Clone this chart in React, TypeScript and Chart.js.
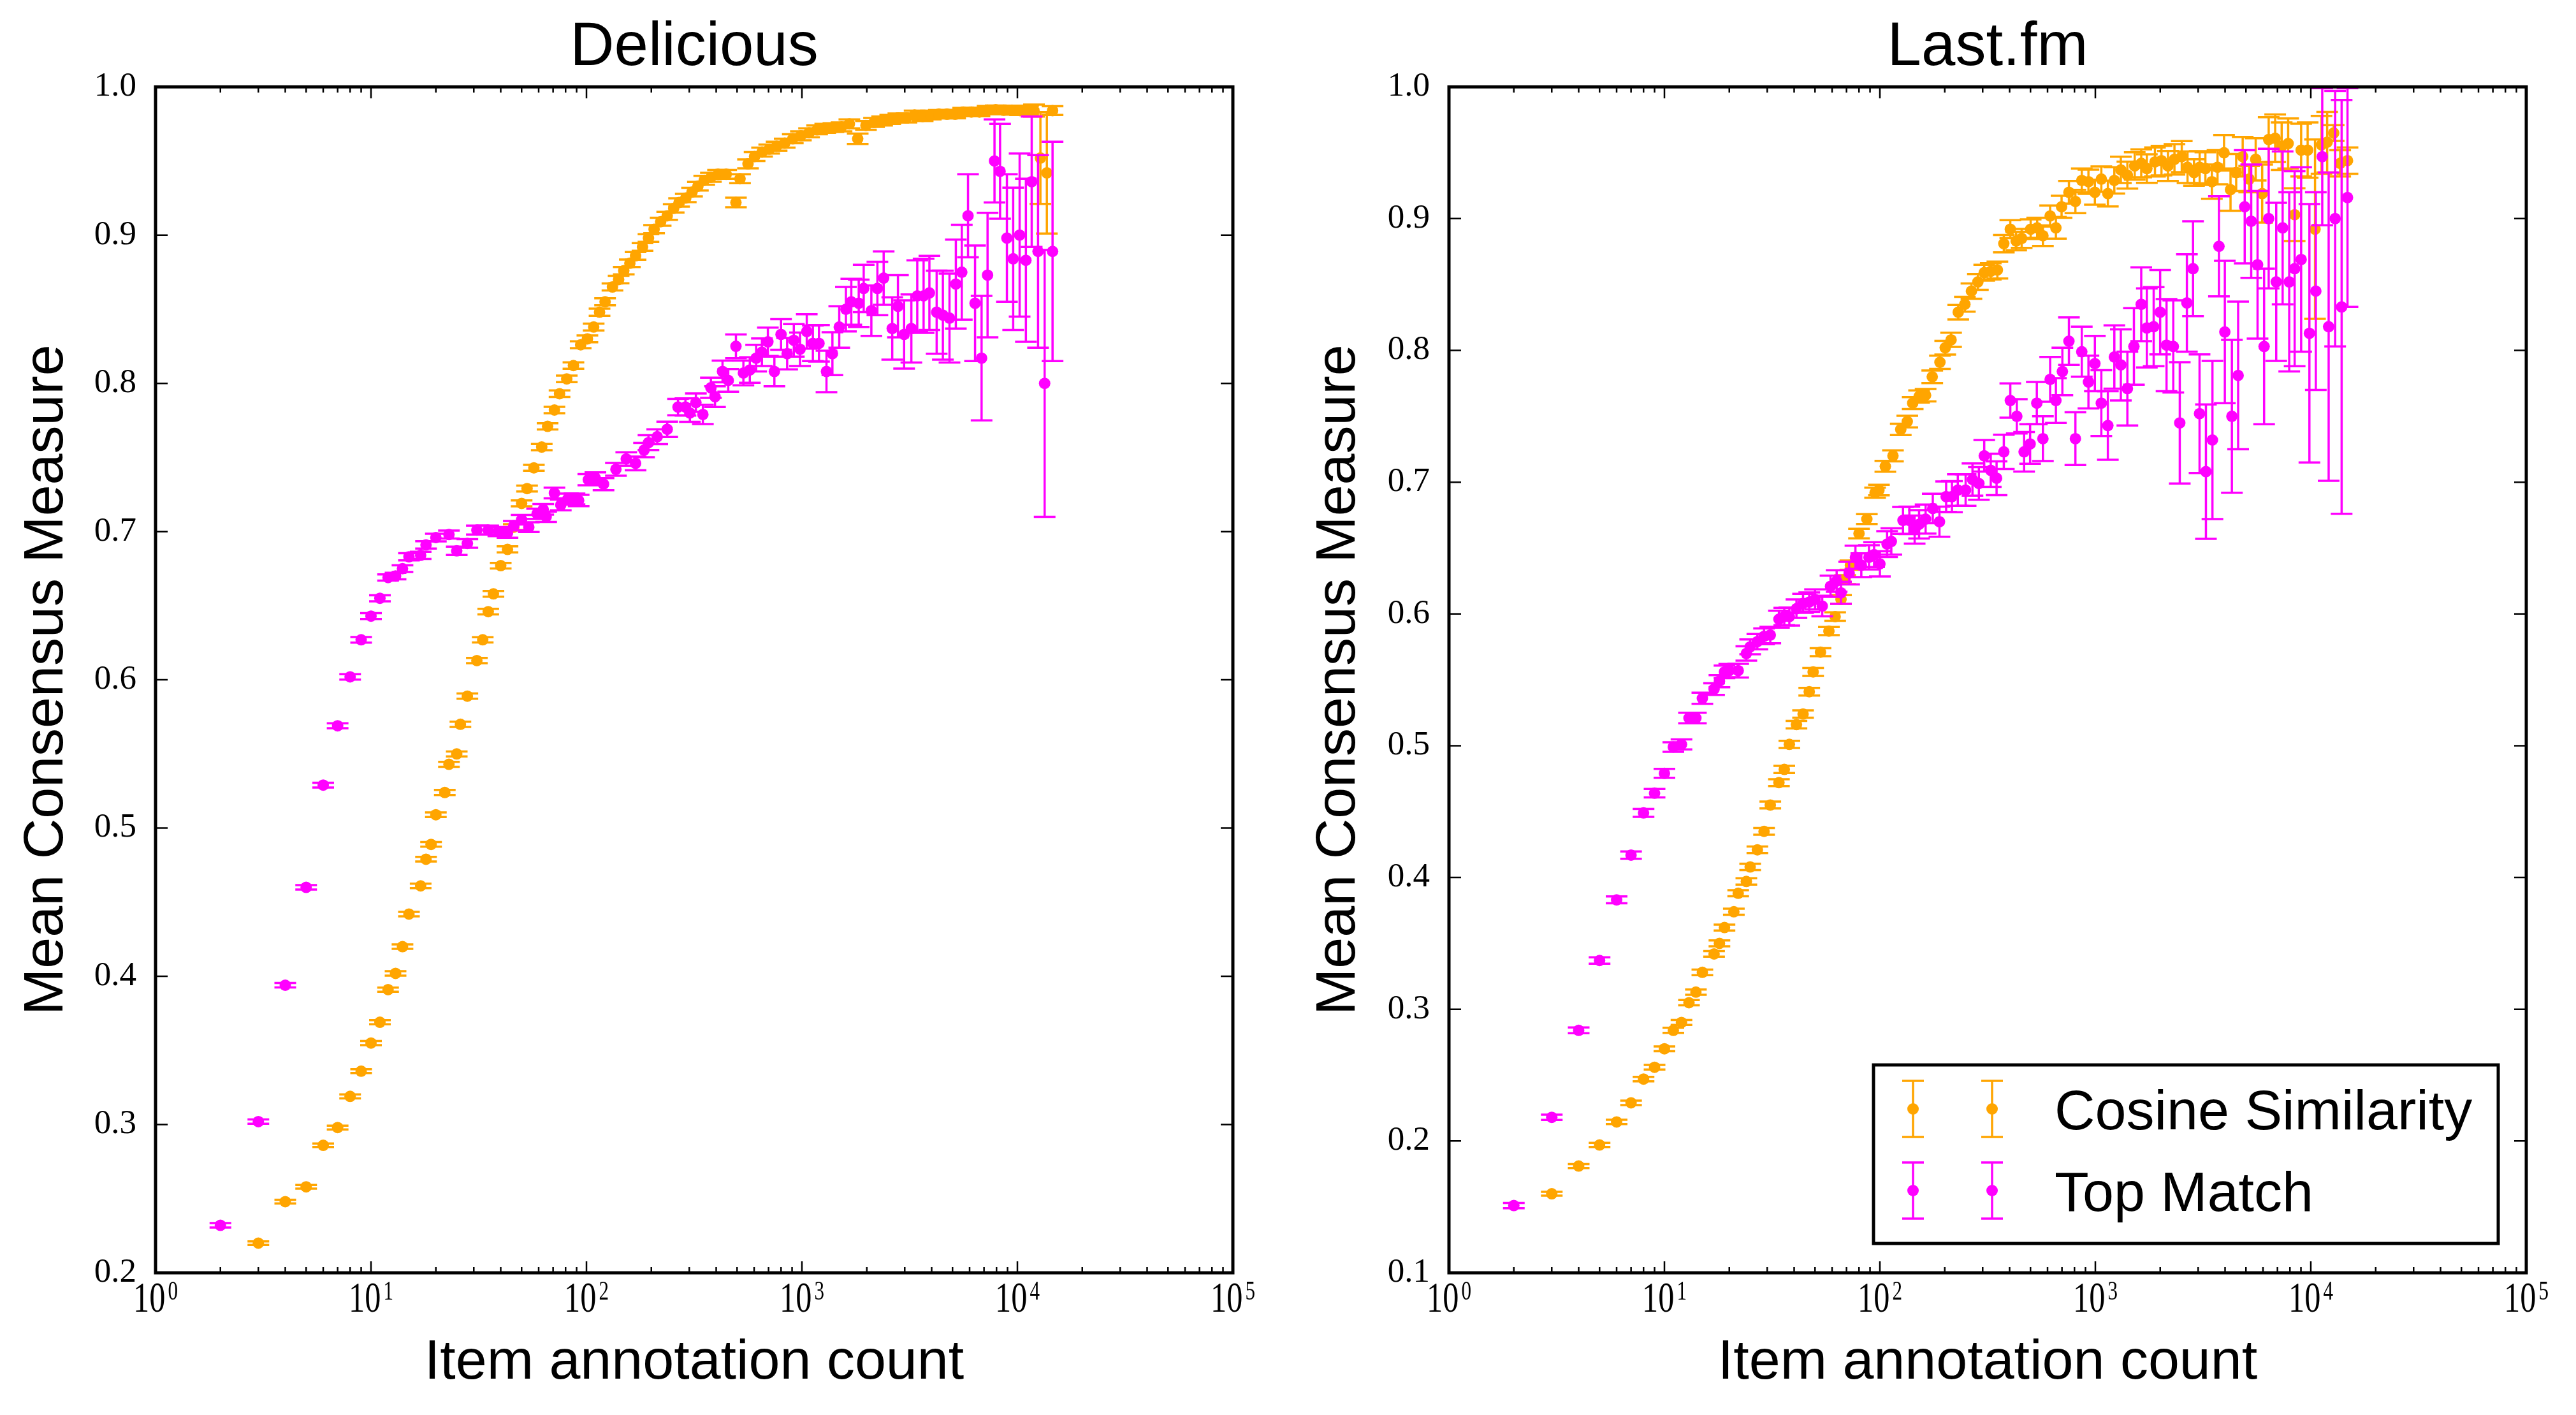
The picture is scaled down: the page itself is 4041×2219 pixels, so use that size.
import React, { useEffect, useRef } from 'react';
import { Chart, registerables } from 'chart.js';

Chart.register(...registerables);

const ORANGE = '#FFA500';
const MAGENTA = '#FF00FF';
const SANS = '"Liberation Sans", Arial, sans-serif';
const SERIF = '"Liberation Serif", "Times New Roman", serif';

const seriesLabels = ['Cosine Similarity', 'Top Match'];
const panelTitles = ['Delicious', 'Last.fm'];
const xAxisTitle = 'Item annotation count';
const yAxisTitle = 'Mean Consensus Measure';
const xTickExponents = [0, 1, 2, 3, 4, 5];

// ---------- Delicious ----------
const delCosX = [3,4,5,6,7,8,9,10,11,12,13,14,15,17,18,19,20,22,23,25,26,28,31,33,35,37,40,43,46,50,53,57,62,66,71,75,81,87,94,101,108,115,122,132,141,149,159,169,182,194,206,221,237,254,269,289,309,329,352,378,408,445,494,516,562,603,653,705,763,832,907,989,1079,1176,1283,1400,1527,1660,1815,1982,2161,2356,2570,2803,3056,3334,3634,3963,4322,4713,5140,5605,6114,6668,7272,7931,8650,9435,10290,11220,11940,12790,13700,14560];
const delCosY = [0.220,0.248,0.258,0.286,0.298,0.319,0.336,0.355,0.369,0.391,0.402,0.420,0.442,0.461,0.479,0.489,0.509,0.524,0.543,0.550,0.570,0.589,0.613,0.627,0.646,0.658,0.677,0.688,0.703,0.719,0.729,0.743,0.757,0.771,0.782,0.793,0.803,0.812,0.826,0.830,0.838,0.848,0.855,0.865,0.870,0.876,0.881,0.886,0.892,0.898,0.904,0.909,0.913,0.918,0.922,0.925,0.929,0.933,0.937,0.939,0.941,0.941,0.922,0.938,0.948,0.953,0.956,0.958,0.960,0.962,0.965,0.967,0.969,0.971,0.972,0.9725,0.973,0.975,0.965,0.974,0.976,0.977,0.978,0.979,0.979,0.981,0.980,0.981,0.9816,0.9816,0.9816,0.983,0.983,0.983,0.9843,0.9846,0.9843,0.9843,0.984,0.9843,0.984,0.952,0.942,0.984];
const delCosErr = [0.0012,0.0012,0.0012,0.0012,0.0013,0.0013,0.0013,0.0014,0.0014,0.0014,0.0015,0.0015,0.0015,0.0015,0.0016,0.0016,0.0016,0.0017,0.0017,0.0017,0.0018,0.0018,0.0018,0.0018,0.0019,0.0019,0.0019,0.002,0.002,0.002,0.002,0.002,0.0021,0.0021,0.0021,0.0022,0.0022,0.0022,0.0023,0.0023,0.0023,0.0024,0.0024,0.0024,0.0025,0.0025,0.0025,0.0026,0.0026,0.0026,0.0027,0.0027,0.0027,0.0028,0.0028,0.0028,0.0029,0.0029,0.003,0.003,0.003,0.003,0.0032,0.003,0.003,0.003,0.003,0.003,0.003,0.003,0.003,0.003,0.003,0.003,0.003,0.003,0.003,0.003,0.0035,0.003,0.003,0.003,0.003,0.003,0.003,0.003,0.003,0.003,0.0028,0.0028,0.0028,0.0028,0.0028,0.0028,0.0028,0.0028,0.0028,0.003,0.003,0.003,0.004,0.031,0.041,0.003];

const delTopX = [2,3,4,5,6,7,8,9,10,11,12,13,14,15,17,18,20,23,25,28,31,35,39,43,46,50,54,59,63,65,71,76,82,88,92,102,110,120,137,153,169,185,194,213,237,266,288,302,322,347,378,395,428,455,494,535,573,613,652,695,745,800,854,917,980,1053,1124,1200,1300,1385,1490,1600,1695,1835,1935,2100,2240,2395,2625,2790,2980,3220,3430,3670,3905,4220,4510,4840,5180,5520,5900,6360,6820,7270,7830,8310,8940,9560,10240,10950,11650,12470,13380,14560];
const delTopY = [0.232,0.302,0.394,0.460,0.529,0.569,0.602,0.627,0.643,0.655,0.669,0.670,0.675,0.683,0.684,0.691,0.696,0.698,0.687,0.692,0.701,0.701,0.700,0.699,0.704,0.708,0.703,0.712,0.715,0.710,0.726,0.718,0.722,0.722,0.721,0.735,0.736,0.732,0.742,0.749,0.746,0.755,0.760,0.764,0.769,0.784,0.784,0.780,0.787,0.779,0.797,0.791,0.808,0.802,0.825,0.807,0.809,0.817,0.821,0.828,0.808,0.833,0.820,0.829,0.823,0.835,0.827,0.827,0.808,0.820,0.838,0.850,0.855,0.854,0.864,0.849,0.864,0.871,0.837,0.852,0.833,0.837,0.859,0.859,0.861,0.848,0.846,0.844,0.867,0.875,0.913,0.854,0.817,0.873,0.950,0.943,0.898,0.884,0.900,0.883,0.936,0.889,0.800,0.889];
const delTopErr = [0.0015,0.0015,0.0015,0.0015,0.0016,0.0017,0.0018,0.0019,0.002,0.002,0.0021,0.0022,0.0023,0.0024,0.0024,0.0025,0.0026,0.0027,0.0028,0.0029,0.003,0.003,0.0031,0.0031,0.0032,0.0032,0.0033,0.0034,0.0035,0.0035,0.0036,0.0036,0.0037,0.0037,0.0038,0.0038,0.004,0.0041,0.0043,0.0045,0.0046,0.0048,0.005,0.005,0.0052,0.0055,0.0058,0.006,0.0062,0.0065,0.0068,0.007,0.0073,0.0076,0.008,0.0083,0.0086,0.009,0.0093,0.0096,0.01,0.0103,0.0106,0.011,0.0113,0.0116,0.012,0.0123,0.014,0.0145,0.014,0.015,0.0155,0.016,0.016,0.017,0.018,0.018,0.021,0.021,0.023,0.023,0.024,0.025,0.025,0.028,0.03,0.03,0.03,0.032,0.028,0.039,0.042,0.042,0.028,0.032,0.043,0.048,0.055,0.055,0.044,0.065,0.09,0.074];

// ---------- Last.fm ----------
const lastCosX = [3,4,5,6,7,8,9,10,11,12,13,14,15,17,18,19,21,22,24,25,27,29,31,34,36,38,41,44,47,49,53,58,62,66,69,73,80,87,95,99,106,115,125,134,142,152,163,175,190,201,214,231,248,266,285,305,327,351,376,403,429,455,501,537,571,617,656,697,754,808,865,929,995,1066,1143,1225,1313,1408,1523,1633,1734,1891,2027,2173,2329,2518,2678,2870,3049,3241,3474,3690,3956,4240,4505,4829,5176,5548,5947,6375,6833,7324,7850,8414,9019,9668,10460,11210,11910,12770,13690,14800];
const lastCosY = [0.160,0.181,0.197,0.2145,0.229,0.247,0.256,0.270,0.284,0.290,0.305,0.313,0.328,0.342,0.350,0.362,0.374,0.388,0.397,0.408,0.421,0.435,0.455,0.472,0.482,0.501,0.516,0.524,0.541,0.556,0.571,0.587,0.598,0.611,0.626,0.637,0.661,0.672,0.692,0.694,0.712,0.720,0.740,0.746,0.760,0.765,0.766,0.780,0.791,0.802,0.808,0.829,0.835,0.845,0.852,0.859,0.860,0.861,0.881,0.892,0.883,0.885,0.892,0.893,0.887,0.902,0.893,0.909,0.920,0.913,0.929,0.928,0.920,0.930,0.919,0.929,0.937,0.933,0.940,0.942,0.938,0.943,0.944,0.940,0.945,0.947,0.939,0.935,0.939,0.938,0.928,0.939,0.950,0.922,0.935,0.947,0.930,0.945,0.919,0.960,0.961,0.955,0.957,0.903,0.952,0.952,0.892,0.956,0.958,0.965,0.942,0.944];
const lastCosErr = [0.0015,0.0015,0.0016,0.0016,0.0017,0.0017,0.0018,0.0018,0.0019,0.0019,0.002,0.002,0.0021,0.0021,0.0022,0.0022,0.0023,0.0023,0.0024,0.0024,0.0025,0.0025,0.0026,0.0026,0.0027,0.0027,0.0028,0.0028,0.0029,0.003,0.003,0.0031,0.0032,0.0033,0.0034,0.0035,0.0036,0.0037,0.0038,0.004,0.0041,0.0042,0.0043,0.0044,0.0045,0.0046,0.0047,0.0048,0.005,0.0052,0.0054,0.0055,0.0056,0.0058,0.006,0.006,0.0062,0.0064,0.0066,0.0068,0.007,0.0072,0.0074,0.0076,0.0078,0.008,0.0082,0.0084,0.0086,0.0088,0.009,0.0092,0.0094,0.0096,0.0098,0.01,0.01,0.0102,0.0104,0.0106,0.0108,0.011,0.0112,0.0114,0.0116,0.0118,0.012,0.01,0.0122,0.0124,0.013,0.013,0.0135,0.016,0.014,0.015,0.01,0.016,0.022,0.017,0.018,0.018,0.019,0.02,0.02,0.021,0.068,0.022,0.023,0.006,0.01,0.01];

const lastTopX = [2,3,4,5,6,7,8,9,10,11,12,13,14,15,17,18,19,20,22,24,25,27,29,31,34,36,38,41,44,47,50,54,59,63,66,72,77,82,89,94,100,108,113,128,137,145,152,163,176,189,203,216,230,250,269,288,305,327,348,376,403,432,467,498,535,571,617,656,703,754,808,865,929,995,1066,1143,1225,1313,1408,1510,1633,1734,1865,1999,2140,2300,2465,2660,2840,3045,3260,3495,3747,3990,4302,4600,4933,5290,5660,6070,6375,6910,7400,7940,8414,9019,9850,10550,11300,12100,12970,13900,14800];
const lastTopY = [0.151,0.218,0.284,0.337,0.383,0.417,0.449,0.464,0.479,0.499,0.501,0.521,0.521,0.536,0.543,0.549,0.556,0.557,0.557,0.570,0.575,0.579,0.583,0.584,0.596,0.598,0.598,0.604,0.608,0.609,0.611,0.606,0.621,0.625,0.616,0.631,0.643,0.637,0.643,0.645,0.638,0.653,0.655,0.671,0.671,0.664,0.668,0.672,0.680,0.670,0.689,0.689,0.694,0.694,0.702,0.699,0.720,0.709,0.703,0.723,0.762,0.750,0.723,0.729,0.760,0.733,0.778,0.762,0.784,0.807,0.733,0.799,0.776,0.790,0.760,0.743,0.795,0.789,0.771,0.803,0.835,0.817,0.818,0.829,0.804,0.803,0.745,0.836,0.862,0.752,0.708,0.732,0.879,0.814,0.750,0.781,0.909,0.898,0.865,0.803,0.900,0.852,0.893,0.852,0.862,0.869,0.813,0.845,0.947,0.818,0.900,0.833,0.916];
const lastTopErr = [0.002,0.002,0.0022,0.0024,0.0026,0.0028,0.003,0.0032,0.0034,0.0036,0.0038,0.004,0.004,0.0042,0.0044,0.0046,0.0048,0.005,0.0052,0.0054,0.0056,0.0058,0.006,0.0062,0.0064,0.0066,0.0068,0.007,0.0072,0.0074,0.0076,0.0078,0.008,0.0082,0.0084,0.0086,0.0088,0.009,0.0092,0.0094,0.0096,0.0098,0.01,0.0102,0.0104,0.0106,0.0108,0.011,0.0112,0.0114,0.0116,0.0118,0.012,0.012,0.0122,0.0124,0.012,0.0126,0.0128,0.013,0.013,0.013,0.015,0.015,0.016,0.017,0.017,0.017,0.018,0.018,0.02,0.019,0.02,0.021,0.025,0.026,0.024,0.027,0.028,0.029,0.028,0.03,0.03,0.032,0.035,0.035,0.046,0.037,0.036,0.045,0.051,0.06,0.038,0.054,0.058,0.056,0.043,0.043,0.056,0.059,0.053,0.06,0.058,0.068,0.074,0.07,0.098,0.075,0.052,0.117,0.097,0.157,0.083];

// ---------- plugins ----------
const errorBarPlugin = {
  id: 'errorBars',
  beforeDatasetDraw(chart: any, args: any) {
    const ds = chart.data.datasets[args.index];
    const errs = ds.errors;
    if (!errs) return;
    const { ctx, chartArea } = chart;
    const xs = chart.scales.x;
    const ys = chart.scales.y;
    ctx.save();
    ctx.beginPath();
    ctx.rect(chartArea.left, chartArea.top, chartArea.right - chartArea.left, chartArea.bottom - chartArea.top);
    ctx.clip();
    ctx.strokeStyle = ds.borderColor;
    ctx.lineWidth = 3.5;
    const cap = 17;
    ds.data.forEach((p: any, i: number) => {
      const px = xs.getPixelForValue(p.x);
      const yT = ys.getPixelForValue(p.y + errs[i]);
      const yB = ys.getPixelForValue(p.y - errs[i]);
      ctx.beginPath();
      ctx.moveTo(px, yT); ctx.lineTo(px, yB);
      ctx.moveTo(px - cap, yT); ctx.lineTo(px + cap, yT);
      ctx.moveTo(px - cap, yB); ctx.lineTo(px + cap, yB);
      ctx.stroke();
    });
    ctx.restore();
  },
};

const SX = 0.74;
const framePlugin = {
  id: 'frame',
  afterDraw(chart: any) {
    const { ctx, chartArea } = chart;
    const { left, right, top, bottom } = chartArea;
    const xs = chart.scales.x;
    const ys = chart.scales.y;
    ctx.save();
    ctx.strokeStyle = '#000';
    ctx.lineWidth = 2.5;
    ctx.beginPath();
    const eMin = xTickExponents[0];
    const eMax = xTickExponents[xTickExponents.length - 1];
    for (let e = eMin; e <= eMax; e++) {
      for (let m = 1; m < 10; m++) {
        if (e === eMax && m > 1) break;
        const px = xs.getPixelForValue(m * Math.pow(10, e));
        const len = m === 1 ? 18 : 9;
        ctx.moveTo(px, bottom); ctx.lineTo(px, bottom - len);
        ctx.moveTo(px, top); ctx.lineTo(px, top + len);
      }
    }
    ys.ticks.forEach((t: any) => {
      const py = ys.getPixelForValue(t.value);
      ctx.moveTo(left, py); ctx.lineTo(left + 19, py);
      ctx.moveTo(right, py); ctx.lineTo(right - 19, py);
    });
    ctx.stroke();
    ctx.lineWidth = 5;
    ctx.strokeRect(left, top, right - left, bottom - top);

    ctx.fillStyle = '#000';
    ctx.textBaseline = 'alphabetic';
    ctx.textAlign = 'left';
    xTickExponents.forEach((e) => {
      const px = xs.getPixelForValue(Math.pow(10, e));
      ctx.font = `68px ${SERIF}`;
      const baseW = ctx.measureText('10').width * SX;
      ctx.font = `42px ${SERIF}`;
      const expW = ctx.measureText(String(e)).width * SX;
      const gap = 4;
      const x0 = px - (baseW + gap + expW) / 2;
      ctx.save();
      ctx.translate(x0, bottom + 61);
      ctx.scale(SX, 1);
      ctx.font = `68px ${SERIF}`;
      ctx.fillText('10', 0, 0);
      ctx.restore();
      ctx.save();
      ctx.translate(x0 + baseW + gap, bottom + 42);
      ctx.scale(SX, 1);
      ctx.font = `42px ${SERIF}`;
      ctx.fillText(String(e), 0, 0);
      ctx.restore();
    });
    ctx.restore();
  },
};

const boxLegendPlugin = {
  id: 'boxLegend',
  afterDraw(chart: any, _args: any, opts: any) {
    if (!opts || !opts.show) return;
    const { ctx, chartArea } = chart;
    const bx = chartArea.right - opts.insetRight - opts.width;
    const by = chartArea.bottom - opts.insetBottom - opts.height;
    ctx.save();
    ctx.fillStyle = '#fff';
    ctx.fillRect(bx, by, opts.width, opts.height);
    ctx.strokeStyle = '#000';
    ctx.lineWidth = 5;
    ctx.strokeRect(bx, by, opts.width, opts.height);
    chart.data.datasets.forEach((ds: any, i: number) => {
      const cy = by + opts.rowY[i];
      ctx.strokeStyle = ds.borderColor;
      ctx.fillStyle = ds.backgroundColor;
      ctx.lineWidth = 3.5;
      opts.markerX.forEach((mx: number) => {
        const cx = bx + mx;
        ctx.beginPath();
        ctx.moveTo(cx, cy - 44); ctx.lineTo(cx, cy + 44);
        ctx.moveTo(cx - 17, cy - 44); ctx.lineTo(cx + 17, cy - 44);
        ctx.moveTo(cx - 17, cy + 44); ctx.lineTo(cx + 17, cy + 44);
        ctx.stroke();
        ctx.beginPath();
        ctx.arc(cx, cy, 9, 0, Math.PI * 2);
        ctx.fill();
      });
      ctx.fillStyle = '#000';
      ctx.font = `88px ${SANS}`;
      ctx.textAlign = 'left';
      ctx.textBaseline = 'alphabetic';
      ctx.fillText(ds.label, bx + opts.textX, cy + 32);
    });
    ctx.restore();
  },
};

function makeSeries(label: string, color: string, xs: number[], ys: number[], errs: number[], order: number) {
  return {
    label,
    data: xs.map((x, i) => ({ x, y: ys[i] })),
    errors: errs,
    backgroundColor: color,
    borderColor: color,
    pointRadius: 9,
    pointHoverRadius: 9,
    pointBorderWidth: 0,
    showLine: false,
    order,
    clip: 0,
  };
}

function makeConfig(idx: number) {
  const isLeft = idx === 0;
  const datasets = isLeft
    ? [
        makeSeries(seriesLabels[0], ORANGE, delCosX, delCosY, delCosErr, 2),
        makeSeries(seriesLabels[1], MAGENTA, delTopX, delTopY, delTopErr, 1),
      ]
    : [
        makeSeries(seriesLabels[0], ORANGE, lastCosX, lastCosY, lastCosErr, 2),
        makeSeries(seriesLabels[1], MAGENTA, lastTopX, lastTopY, lastTopErr, 1),
      ];
  const yWidth = isLeft ? 244 : 253;
  const padRight = isLeft ? 86 : 78;
  const yTitlePad = isLeft ? 21 : 28;
  return {
    type: 'scatter',
    data: { datasets },
    options: {
      responsive: false,
      animation: false,
      events: [],
      layout: { padding: { left: 0, right: padRight, top: 0, bottom: 0 } },
      plugins: {
        legend: { display: false },
        tooltip: { enabled: false },
        title: {
          display: true,
          text: panelTitles[idx],
          color: '#000',
          font: { family: SANS, size: 96, weight: 'normal' },
          padding: { top: 18, bottom: 3 },
          fullSize: false,
        },
        boxLegend: {
          show: !isLeft,
          insetRight: 44,
          insetBottom: 46,
          width: 980,
          height: 280,
          markerX: [62, 186],
          rowY: [69, 197],
          textX: 284,
        },
      },
      scales: {
        x: {
          type: 'logarithmic',
          min: Math.pow(10, xTickExponents[0]),
          max: Math.pow(10, xTickExponents[xTickExponents.length - 1]),
          ticks: { display: false },
          grid: { display: false, drawTicks: false },
          border: { display: false },
          title: {
            display: true,
            text: xAxisTitle,
            color: '#000',
            font: { family: SANS, size: 88, weight: 'normal' },
            padding: { top: 0, bottom: 28 },
          },
          afterFit: (s: any) => { s.height = 223; },
        },
        y: {
          type: 'linear',
          min: isLeft ? 0.2 : 0.1,
          max: 1.0,
          ticks: {
            stepSize: 0.1,
            padding: 30,
            color: '#000',
            font: { family: SERIF, size: 53 },
            callback: (v: any) => Number(v).toFixed(1),
          },
          grid: { display: false, drawTicks: false },
          border: { display: false },
          title: {
            display: true,
            text: yAxisTitle,
            color: '#000',
            font: { family: SANS, size: 88, weight: 'normal' },
            padding: { top: yTitlePad, bottom: 0 },
          },
          afterFit: (s: any) => { s.width = yWidth; },
        },
      },
    },
    plugins: [errorBarPlugin, framePlugin, boxLegendPlugin],
  };
}

export default function App() {
  const leftRef = useRef<HTMLCanvasElement | null>(null);
  const rightRef = useRef<HTMLCanvasElement | null>(null);

  useEffect(() => {
    const charts: Chart[] = [];
    if (leftRef.current) charts.push(new Chart(leftRef.current, makeConfig(0) as any));
    if (rightRef.current) charts.push(new Chart(rightRef.current, makeConfig(1) as any));
    return () => { charts.forEach((c) => c.destroy()); };
  }, []);

  return (
    <div style={{ position: 'absolute', left: 0, top: 0, width: 4041, height: 2219, background: '#fff', overflow: 'hidden' }}>
      <canvas ref={leftRef} width={2020} height={2219} style={{ position: 'absolute', left: 0, top: 0, width: 2020, height: 2219 }} />
      <canvas ref={rightRef} width={2021} height={2219} style={{ position: 'absolute', left: 2020, top: 0, width: 2021, height: 2219 }} />
    </div>
  );
}
